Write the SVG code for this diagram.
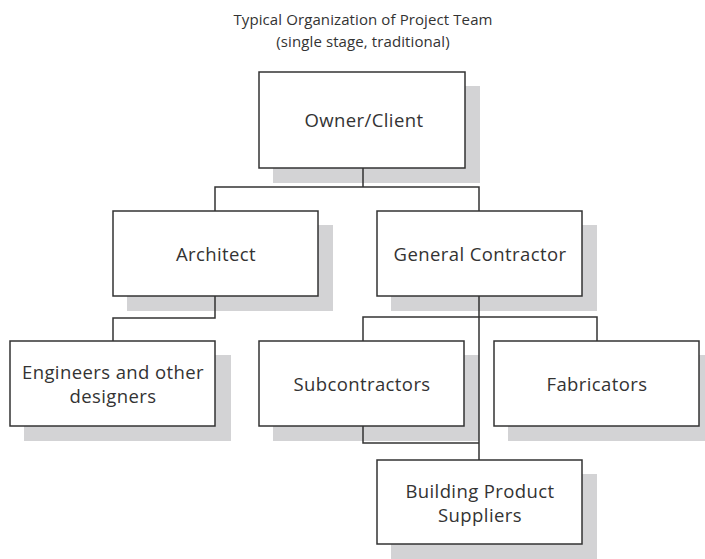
<svg xmlns="http://www.w3.org/2000/svg" width="705" height="559" viewBox="0 0 705 559">
<style>
.sh{fill:#d3d3d5;stroke:none}
.bx{fill:#fff;stroke:#333;stroke-width:1.5}
.t{font-family:"Open Sans","Liberation Sans",sans-serif;font-size:18.5px;letter-spacing:0.4px;fill:#333;text-anchor:middle}
.tt{font-family:"Open Sans","Liberation Sans",sans-serif;font-size:15px;letter-spacing:0.1px;fill:#333;text-anchor:middle}
.c{fill:none;stroke:#333;stroke-width:1.5}
</style>
<rect width="705" height="559" fill="#fff"/>
<g id="title">
<text class="tt" x="363" y="25">Typical Organization of Project Team</text>
<text class="tt" x="363" y="47">(single stage, traditional)</text>
</g>
<g id="owner">
<rect class="sh" x="273" y="86" width="207" height="97"/>
<rect class="bx" x="259" y="72" width="206" height="96"/>
<text class="t" x="364" y="127">Owner/Client</text>
</g>
<g id="architect">
<rect class="sh" x="127" y="225" width="206" height="86"/>
<rect class="bx" x="113" y="211" width="205" height="85"/>
<text class="t" x="216" y="261">Architect</text>
</g>
<g id="gc">
<rect class="sh" x="391" y="225" width="206" height="86"/>
<rect class="bx" x="377" y="211" width="205" height="85"/>
<text class="t" x="480" y="261">General Contractor</text>
</g>
<g id="engineers">
<rect class="sh" x="24" y="355" width="207" height="86"/>
<rect class="bx" x="10" y="341" width="205" height="85"/>
<text class="t" x="113" y="379">Engineers and other</text>
<text class="t" x="113" y="403">designers</text>
</g>
<g id="subcontractors">
<rect class="sh" x="273" y="355" width="206" height="86"/>
<rect class="bx" x="259" y="341" width="205" height="85"/>
<text class="t" x="362" y="391">Subcontractors</text>
</g>
<g id="fabricators">
<rect class="sh" x="508" y="355" width="197" height="86"/>
<rect class="bx" x="494" y="341" width="205" height="85"/>
<text class="t" x="597" y="391">Fabricators</text>
</g>
<g id="suppliers">
<rect class="sh" x="391" y="474" width="206" height="85"/>
<rect class="bx" x="377" y="460" width="205" height="84"/>
<text class="t" x="480" y="498">Building Product</text>
<text class="t" x="480" y="522">Suppliers</text>
</g>
<g id="connectors">
<path class="c" d="M363 168V187M215 211V187H479V211"/>
<path class="c" d="M215 296V318H113V341"/>
<path class="c" d="M479 296V460M363 341V317H597V341"/>
<path class="c" d="M363 426V443H479"/>
</g>
</svg>
